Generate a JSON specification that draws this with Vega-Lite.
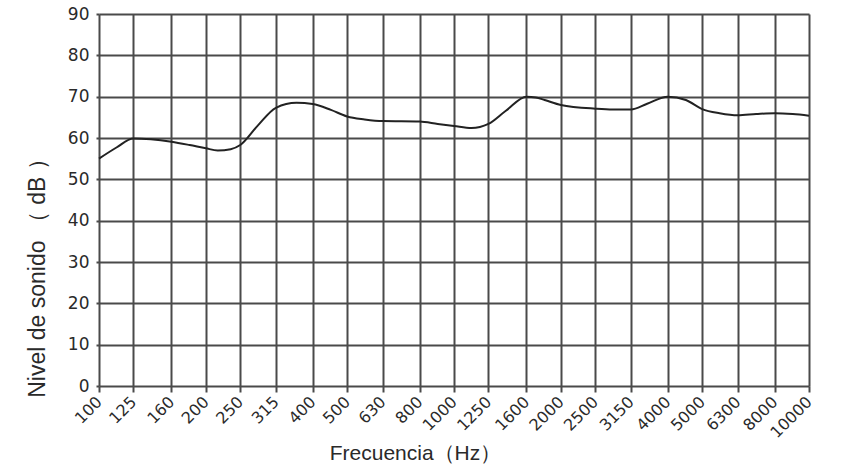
{
  "$schema": "https://vega.github.io/schema/vega-lite/v6.json",
  "autosize": "none",
  "width": 710,
  "height": 372,
  "padding": {"left": 99, "top": 14, "right": 48, "bottom": 87},
  "background": "white",
  "config": {
    "view": {"stroke": null},
    "font": "Liberation Sans",
    "axis": {
      "gridColor": "#4a4a4a",
      "gridWidth": 2,
      "gridOpacity": 1,
      "tickColor": "#4a4a4a",
      "tickWidth": 2,
      "domain": false,
      "labelColor": "#2a2a2a",
      "titleColor": "#2a2a2a",
      "labelFont": "DejaVu Sans",
      "titleFont": "Liberation Sans",
      "titleFontWeight": "normal",
      "titleLimit": 1000
    }
  },
  "data": {
    "values": [
      {"freq": 100, "db": 55.0},
      {"freq": 112, "db": 57.7},
      {"freq": 125, "db": 59.9},
      {"freq": 140, "db": 59.7},
      {"freq": 160, "db": 59.1},
      {"freq": 180, "db": 58.3},
      {"freq": 200, "db": 57.5},
      {"freq": 216, "db": 57.0},
      {"freq": 235, "db": 57.3},
      {"freq": 250, "db": 58.3},
      {"freq": 280, "db": 63.0},
      {"freq": 315, "db": 67.3},
      {"freq": 360, "db": 68.5},
      {"freq": 400, "db": 68.2},
      {"freq": 450, "db": 66.8},
      {"freq": 500, "db": 65.2},
      {"freq": 560, "db": 64.5},
      {"freq": 630, "db": 64.1},
      {"freq": 800, "db": 64.0},
      {"freq": 900, "db": 63.4},
      {"freq": 1000, "db": 62.9},
      {"freq": 1120, "db": 62.4},
      {"freq": 1250, "db": 63.4},
      {"freq": 1400, "db": 66.6},
      {"freq": 1600, "db": 70.0},
      {"freq": 1700, "db": 69.8},
      {"freq": 1800, "db": 69.2},
      {"freq": 2000, "db": 68.0},
      {"freq": 2500, "db": 67.1},
      {"freq": 2800, "db": 66.9},
      {"freq": 3150, "db": 66.9},
      {"freq": 3500, "db": 68.3},
      {"freq": 4000, "db": 70.0},
      {"freq": 4500, "db": 69.2},
      {"freq": 5000, "db": 67.0},
      {"freq": 5600, "db": 66.0},
      {"freq": 6300, "db": 65.5},
      {"freq": 7100, "db": 65.8},
      {"freq": 8000, "db": 66.0},
      {"freq": 9000, "db": 65.8},
      {"freq": 10000, "db": 65.4}
    ]
  },
  "mark": {"type": "line", "interpolate": "monotone", "color": "#222", "strokeWidth": 2},
  "encoding": {
    "x": {
      "field": "freq",
      "type": "quantitative",
      "scale": {"type": "log", "domain": [100, 10000], "nice": false},
      "axis": {
        "values": [100, 125, 160, 200, 250, 315, 400, 500, 630, 800, 1000, 1250, 1600, 2000, 2500, 3150, 4000, 5000, 6300, 8000, 10000],
        "format": "d",
        "labelAngle": -45,
        "labelAlign": "right",
        "labelBaseline": "middle",
        "labelFontSize": 16,
        "labelPadding": 7,
        "tickSize": 6,
        "labelOverlap": false,
        "labelBound": false,
        "labelFlush": false,
        "title": "Frecuencia（Hz）",
        "titleFontSize": 21,
        "titleX": 316,
        "titleY": 67,
        "titleAlign": "center",
        "titleBaseline": "middle"
      }
    },
    "y": {
      "field": "db",
      "type": "quantitative",
      "scale": {"domain": [0, 90], "nice": false},
      "axis": {
        "values": [0, 10, 20, 30, 40, 50, 60, 70, 80, 90],
        "labelFontSize": 17,
        "tickSize": 3,
        "labelPadding": 7,
        "title": "Nivel de sonido （ dB ）",
        "titleFontSize": 23,
        "titleX": -62,
        "titleY": 258,
        "titleAngle": -90,
        "titleAlign": "center",
        "titleBaseline": "middle"
      }
    }
  }
}
